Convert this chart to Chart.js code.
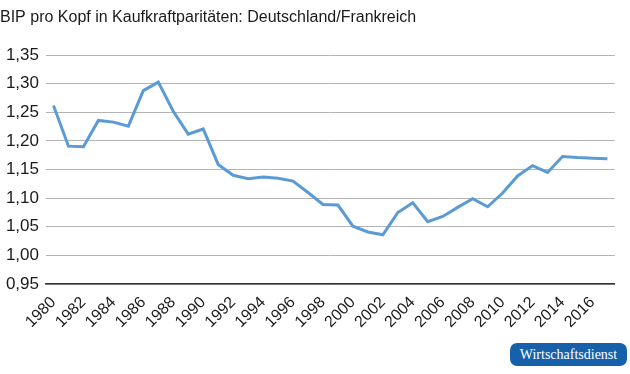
<!DOCTYPE html>
<html>
<head>
<meta charset="utf-8">
<script src="https://cdn.jsdelivr.net/npm/chart.js@4"></script>
<style>
  html, body { margin:0; padding:0; background:#fff; }
  #wrap { position:relative; width:630px; height:374px; }
  #badge {
    position:absolute; left:510px; top:343px; width:117px; height:23px;
    background:#1761aa; border-radius:7px; color:#fff;
    font-family:"Liberation Serif", serif; font-size:14px;
    line-height:23px; text-align:center;
  }
</style>
</head>
<body>
<div id="wrap">
  <canvas id="chart" width="630" height="374"></canvas>
  <div id="badge">Wirtschaftsdienst</div>
</div>
<script>
const years = [];
for (let y = 1980; y <= 2017; y++) years.push(String(y));

// BIP pro Kopf (KKP), Verhältnis Deutschland / Frankreich
const ratio = [
  1.262, 1.191, 1.190, 1.236, 1.233, 1.226, 1.288, 1.303, 1.252, 1.212,
  1.221, 1.159, 1.140, 1.134, 1.137, 1.135, 1.130, 1.110, 1.089, 1.088,
  1.051, 1.041, 1.036, 1.075, 1.092, 1.059, 1.068, 1.084, 1.099, 1.085,
  1.109, 1.139, 1.157, 1.145, 1.173, 1.171, 1.170, 1.169
];

const yMin = 0.95, yMax = 1.35, yStep = 0.05;

const ctx = document.getElementById('chart').getContext('2d');
new Chart(ctx, {
  type: 'line',
  data: {
    labels: years,
    datasets: [{
      data: ratio,
      borderColor: '#5b9bd5',
      borderWidth: 3,
      pointRadius: 0,
      tension: 0,
      fill: false
    }]
  },
  options: {
    responsive: false,
    animation: false,
    layout: { padding: { left: 0, right: 0, top: 0, bottom: 0 } },
    plugins: {
      legend: { display: false },
      tooltip: { enabled: false },
      title: {
        display: true,
        text: 'BIP pro Kopf in Kaufkraftparitäten: Deutschland/Frankreich',
        align: 'start',
        color: '#1a1a1a',
        font: { family: '"Liberation Sans", Arial, sans-serif', size: 16, weight: 'normal' },
        padding: { top: 8, bottom: 28 }
      }
    },
    scales: {
      x: {
        offset: true,
        grid: { display: false, drawTicks: false },
        border: { display: true, color: '#333', width: 1.5 },
        ticks: {
          autoSkip: false,
          maxRotation: 45,
          minRotation: 45,
          padding: 9,
          color: '#1a1a1a',
          font: { family: '"Liberation Sans", Arial, sans-serif', size: 16 },
          callback: function(v, i) { return i % 2 === 0 ? years[i] : ''; }
        },
        afterFit: function(s) { s.height = 90; }
      },
      y: {
        min: yMin,
        max: yMax,
        grid: { color: '#b4b4b4', lineWidth: 1, drawTicks: false },
        border: { display: false },
        ticks: {
          stepSize: yStep,
          padding: 7,
          color: '#1a1a1a',
          font: { family: '"Liberation Sans", Arial, sans-serif', size: 17 },
          callback: function(v) {
            if (v <= yMin + 1e-9) return '0,95';
            return v.toFixed(2).replace('.', ',');
          }
        },
        afterFit: function(s) { s.width = 46; }
      }
    }
  }
});
</script>
</body>
</html>
